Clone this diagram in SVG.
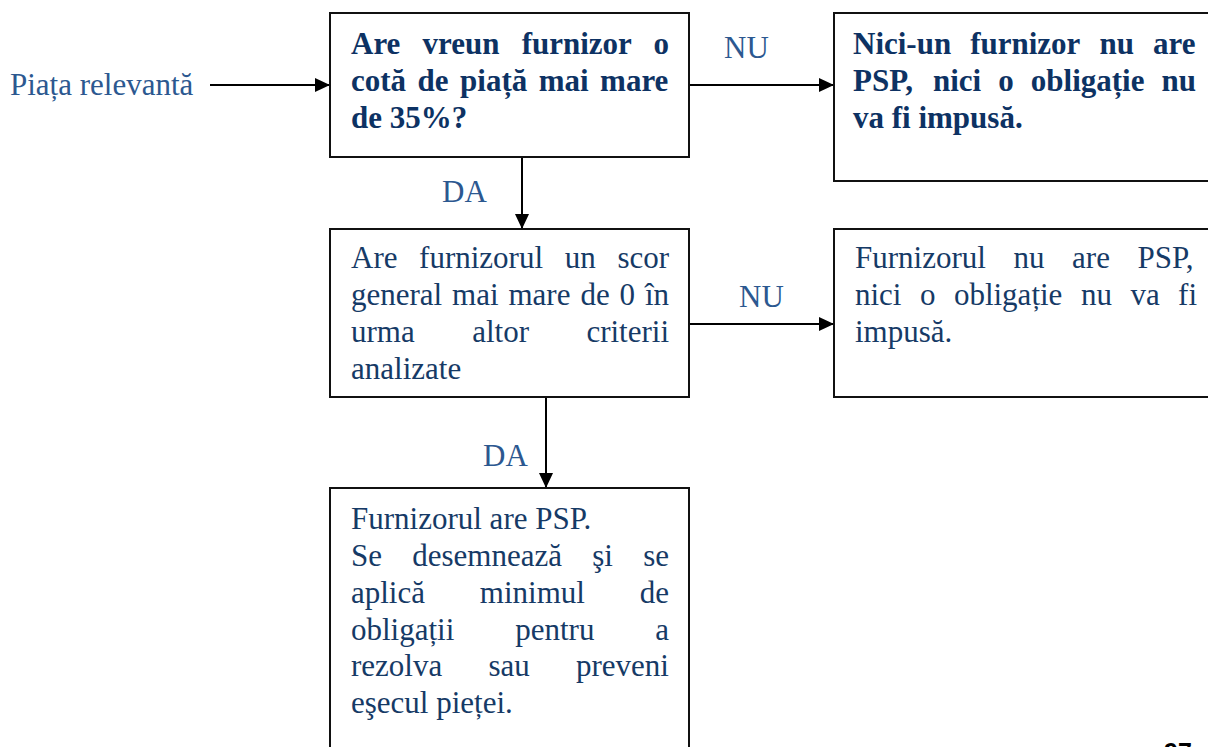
<svg xmlns="http://www.w3.org/2000/svg" width="1208" height="747" viewBox="0 0 1208 747">
<style>
.box{fill:#ffffff;stroke:#111111;stroke-width:2}
.b{font-family:"Liberation Serif","Times New Roman",serif;font-size:31px;font-weight:bold;fill:#0d3263}
.r{font-family:"Liberation Serif","Times New Roman",serif;font-size:31px;fill:#163a66}
.lbl{font-family:"Liberation Serif","Times New Roman",serif;font-size:31px;fill:#2c5890}
.conn{stroke:#000000;stroke-width:2;fill:none;marker-end:url(#ah)}
.pg{font-family:"Liberation Sans",Arial,sans-serif;font-size:25px;font-weight:bold;fill:#000000}
</style>
<defs>
<marker id="ah" markerUnits="userSpaceOnUse" markerWidth="15" markerHeight="14" refX="15" refY="7" orient="auto">
<path d="M0,0 L15,7 L0,14 Z" fill="#000000"/>
</marker>
</defs>
<rect width="1208" height="747" fill="#ffffff"/>

<g id="connectors">
<line class="conn" x1="210" y1="85" x2="330" y2="85"/>
<line class="conn" x1="689" y1="85" x2="834" y2="85"/>
<line class="conn" x1="522" y1="157" x2="522" y2="229"/>
<line class="conn" x1="689" y1="324" x2="834" y2="324"/>
<line class="conn" x1="546" y1="397" x2="546" y2="488"/>
<text class="lbl" x="724" y="58">NU</text>
<text class="lbl" x="442" y="202">DA</text>
<text class="lbl" x="739" y="307">NU</text>
<text class="lbl" x="483" y="466">DA</text>
</g>

<g id="start">
<text class="lbl" x="10" y="95">Piața relevantă</text>
</g>

<g id="q1">
<rect class="box" x="330" y="13" width="359" height="144"/>
<text class="b" y="54"><tspan x="351">Are</tspan><tspan x="422.5">vreun</tspan><tspan x="521.7">furnizor</tspan><tspan x="653.5">o</tspan></text>
<text class="b" y="91"><tspan x="351">cotă</tspan><tspan x="417.6">de</tspan><tspan x="460.1">piață</tspan><tspan x="538.8">mai</tspan><tspan x="600.1">mare</tspan></text>
<text class="b" x="351" y="128">de 35%?</text>
</g>

<g id="no-smp">
<rect class="box" x="834" y="13" width="384" height="168"/>
<text class="b" y="54"><tspan x="853">Nici-un</tspan><tspan x="970.2">furnizor</tspan><tspan x="1099.5">nu</tspan><tspan x="1153">are</tspan></text>
<text class="b" y="91"><tspan x="853">PSP,</tspan><tspan x="933">nici</tspan><tspan x="998.2">o</tspan><tspan x="1030.8">obligație</tspan><tspan x="1161.5">nu</tspan></text>
<text class="b" x="853" y="128">va fi impusă.</text>
</g>

<g id="q2">
<rect class="box" x="330" y="229" width="359" height="168"/>
<text class="r" y="268"><tspan x="351">Are</tspan><tspan x="419.1">furnizorul</tspan><tspan x="564.7">un</tspan><tspan x="617.4">scor</tspan></text>
<text class="r" y="305"><tspan x="351">general</tspan><tspan x="452.1">mai</tspan><tspan x="508.5">mare</tspan><tspan x="580.4">de</tspan><tspan x="619.6">0</tspan><tspan x="644.9">în</tspan></text>
<text class="r" y="342"><tspan x="351">urma</tspan><tspan x="472.2">altor</tspan><tspan x="586.4">criterii</tspan></text>
<text class="r" x="351" y="379">analizate</text>
</g>

<g id="no-smp-2">
<rect class="box" x="834" y="229" width="384" height="168"/>
<text class="r" y="268"><tspan x="855">Furnizorul</tspan><tspan x="1013.5">nu</tspan><tspan x="1072.1">are</tspan><tspan x="1137.5">PSP,</tspan></text>
<text class="r" y="305"><tspan x="855">nici</tspan><tspan x="920">o</tspan><tspan x="953.9">obligație</tspan><tspan x="1080.9">nu</tspan><tspan x="1130.4">va</tspan><tspan x="1178.1">fi</tspan></text>
<text class="r" x="855" y="342">impusă.</text>
</g>

<g id="smp">
<rect class="box" x="330" y="488" width="359" height="280"/>
<text class="r" x="351" y="529">Furnizorul are PSP.</text>
<text class="r" y="566"><tspan x="351">Se</tspan><tspan x="412.2">desemnează</tspan><tspan x="592.2">şi</tspan><tspan x="643.2">se</tspan></text>
<text class="r" y="603"><tspan x="351">aplică</tspan><tspan x="479.8">minimul</tspan><tspan x="639.7">de</tspan></text>
<text class="r" y="640"><tspan x="351">obligații</tspan><tspan x="515.2">pentru</tspan><tspan x="655.2">a</tspan></text>
<text class="r" y="676"><tspan x="351">rezolva</tspan><tspan x="488.5">sau</tspan><tspan x="576">preveni</tspan></text>
<text class="r" x="351" y="713">eşecul pieței.</text>
</g>

<g id="page-number">
<text class="pg" x="1164" y="761">97</text>
</g>
</svg>
